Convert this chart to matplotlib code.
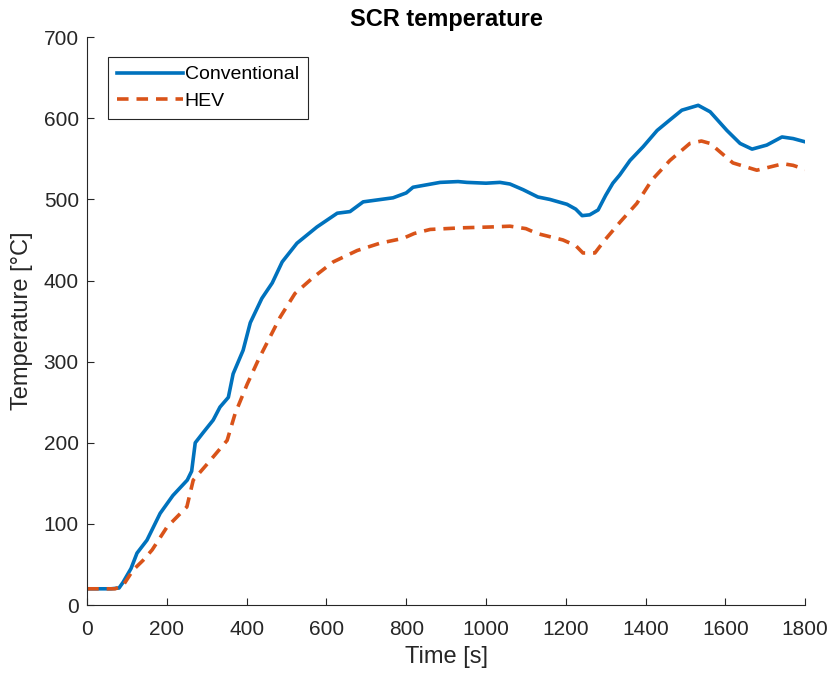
import matplotlib.pyplot as plt

plt.rcParams['font.family'] = ['Liberation Sans', 'DejaVu Sans']

t_conv = [0, 60, 80, 90, 110, 125, 150, 165, 183, 215, 251, 262, 271, 290, 316, 333,
          354, 366, 391, 409, 438, 464, 489, 526, 576, 627, 659, 692, 767, 800, 817,
          885, 930, 952, 1000, 1035, 1060, 1093, 1130, 1160, 1203, 1225, 1241, 1260,
          1281, 1300, 1318, 1335, 1361, 1394, 1429, 1461, 1491, 1532, 1562, 1604,
          1637, 1667, 1704, 1742, 1770, 1800]
conv = [20, 20, 21, 28, 45, 64, 80, 95, 113, 135, 154, 165, 200, 212, 228, 244,
        256, 285, 314, 348, 378, 397, 423, 446, 466, 483, 485, 497, 502, 508, 515,
        521, 522, 521, 520, 521, 519, 512, 503, 500, 494, 488, 480, 481,
        487, 505, 520, 530, 548, 565, 585, 598, 610, 616, 608, 585,
        569, 562, 567, 577, 575, 571]

t_hev = [0, 70, 90, 115, 140, 163, 200, 250, 266, 303, 351, 371, 401, 429, 484, 521,
         567, 617, 677, 734, 792, 820, 860, 940, 1010, 1060, 1100, 1128, 1193, 1225,
         1243, 1273, 1298, 1336, 1378, 1416, 1461, 1511, 1540, 1562, 1619, 1679,
         1745, 1770, 1800]
hev = [20, 20, 24, 43, 55, 68, 96, 121, 154, 175, 203, 236, 272, 302, 355, 384,
       404, 423, 437, 446, 452, 458, 463, 465, 466, 467, 464, 458, 450, 443,
       434, 434, 450, 472, 495, 524, 548, 569, 572, 569, 545, 536,
       544, 542, 537]

fig = plt.figure(figsize=(8.3, 6.76), dpi=100)
ax = fig.add_axes([0.105, 0.105, 0.865, 0.84])

ax.plot(t_conv, conv, color='#0072BD', lw=2.6, label='Conventional')
ax.plot(t_hev, hev, color='#D95319', lw=2.6, ls=(0, (3.2, 2.2)), label='HEV')

ax.set_xlim(0, 1800)
ax.set_ylim(0, 700)
ax.set_xticks(range(0, 1801, 200))
ax.set_yticks(range(0, 701, 100))
ax.tick_params(direction='in', labelsize=15, colors='#262626', length=5, pad=6)
ax.tick_params(axis='x', pad=11)
for s in ['top', 'right']:
    ax.spines[s].set_visible(False)
for s in ['left', 'bottom']:
    ax.spines[s].set_color('#262626')
ax.set_xlabel('Time [s]', fontsize=17, color='#262626', labelpad=5)
ax.set_ylabel('Temperature [°C]', fontsize=17, color='#262626', labelpad=8)
ax.set_title('SCR temperature', fontsize=17, fontweight='bold', pad=8)

leg = ax.legend(loc='upper left', bbox_to_anchor=(0.029, 0.965), fontsize=14,
                fancybox=False, framealpha=1, edgecolor='#262626',
                handlelength=3.4, handletextpad=0.1, borderpad=0.45,
                labelspacing=0.45, borderaxespad=0)
leg.get_frame().set_linewidth(0.8)

fig.savefig('out.png', dpi=100)
